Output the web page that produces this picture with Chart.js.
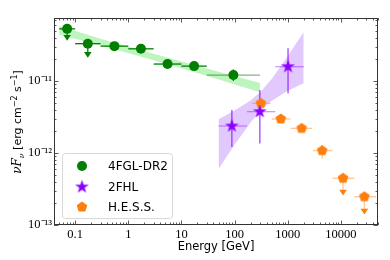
<!DOCTYPE html>
<html>
<head>
<meta charset="utf-8">
<script src="https://cdn.jsdelivr.net/npm/chart.js@4.4.0/dist/chart.umd.min.js"></script>
<style>
  html, body { margin: 0; padding: 0; background: #fff; }
</style>
</head>
<body>
<canvas id="chartCanvas" width="390" height="260"></canvas>
<script>
// ------------------------------------------------------------
// data (energy in GeV, flux in erg cm-2 s-1)
// ------------------------------------------------------------

// 4FGL-DR2 band points
var fglEnergy = [0.0707, 0.173, 0.548, 1.73, 5.48, 17.3, 94.9]
var fglEmin   = [0.05, 0.1, 0.3, 1, 3, 10, 30]
var fglEmax   = [0.1, 0.3, 1, 3, 10, 30, 300]
var fglFlux   = [5.3e-11, 3.3e-11, 3.05e-11, 2.8e-11, 1.72e-11, 1.61e-11, 1.21e-11]
var fglFluxLo = [null, null, null, null, null, null, 1.0e-11]
var fglFluxHi = [null, null, null, null, null, null, 1.45e-11]
var fglUpperLimit = [4.02e-11, 2.33e-11, null, null, null, null, null]

// 4FGL-DR2 power law butterfly
var fglBandEnergy = [0.05, 0.3, 3, 30, 300]
var fglBandUpper  = [5.8e-11, 3.85e-11, 2.4e-11, 1.49e-11, 9.4e-12]
var fglBandLower  = [4.4e-11, 3.15e-11, 1.94e-11, 1.18e-11, 7.0e-12]

// 2FHL points
var fhlEnergy = [89, 299, 1014]
var fhlEmin   = [50, 171, 585]
var fhlEmax   = [171, 585, 2000]
var fhlFlux   = [2.37e-12, 3.75e-12, 1.58e-11]
var fhlFluxLo = [1.21e-12, 1.36e-12, 6.75e-12]
var fhlFluxHi = [3.95e-12, 7.5e-12, 2.84e-11]

// 2FHL butterfly
var fhlBandEnergy = [50, 100, 200, 316, 500, 1000, 2000]
var fhlBandUpper  = [2.95e-12, 3.9e-12, 5.35e-12, 7.2e-12, 1.07e-11, 2.2e-11, 4.8e-11]
var fhlBandLower  = [6.0e-13, 1.3e-12, 2.65e-12, 3.95e-12, 5.3e-12, 7.3e-12, 9.3e-12]

// H.E.S.S. points
var hessEnergy = [312, 740, 1830, 4450, 11000, 27700]
var hessEmin   = [212, 500, 1140, 2960, 7000, 18000]
var hessEmax   = [481, 1130, 2870, 6930, 17900, 46000]
var hessFlux   = [4.9e-12, 2.97e-12, 2.2e-12, 1.08e-12, 4.46e-13, 2.47e-13]
var hessFluxLo = [null, null, null, 8.4e-13, null, null]
var hessFluxHi = [null, null, null, 1.29e-12, null, null]
var hessUpperLimit = [null, null, null, null, 2.85e-13, 1.55e-13]

// axes
var xMin = 0.04, xMax = 5e4
var yMin = 1e-13, yMax = 7.5e-11
var xTicks = [0.1, 1, 10, 100, 1000, 10000]
var yTicks = [1e-13, 1e-12, 1e-11]
var yTickLabels = ['10\u207B\u00B9\u00B3', '10\u207B\u00B9\u00B2', '10\u207B\u00B9\u00B9']

// colours
var green = '#007f00'
var purple = '#8b00ff'
var orange = '#ff7f0e'

// ------------------------------------------------------------
// marker images (filled star and pentagon)
// ------------------------------------------------------------
function polyMarker(n, rOut, rIn, color) {
    var size = Math.ceil(rOut * 2) + 2
    var c = document.createElement('canvas')
    c.width = size
    c.height = size
    var g = c.getContext('2d')
    g.translate(size / 2, size / 2)
    g.beginPath()
    var steps = rIn ? n * 2 : n
    for (var i = 0; i < steps; i++) {
        var r = (rIn && i % 2 == 1) ? rIn : rOut
        var a = -Math.PI / 2 + i * 2 * Math.PI / steps
        g.lineTo(r * Math.cos(a), r * Math.sin(a))
    }
    g.closePath()
    g.fillStyle = color
    g.fill()
    return c
}
var starImg = polyMarker(5, 7.2, 2.8, purple)
var pentImg = polyMarker(5, 5.6, 0, orange)

function points(xs, ys) {
    return xs.map((x, i) => ({ x: x, y: ys[i] }))
}

var datasets = [
    { label: '4FGL-DR2', data: points(fglEnergy, fglFlux), pointStyle: 'circle', pointRadius: 5,
      backgroundColor: green, borderColor: green, borderWidth: 0, showLine: false, order: 0 },
    { label: '2FHL', data: points(fhlEnergy, fhlFlux), pointStyle: starImg, pointRadius: 7,
      backgroundColor: purple, borderColor: purple, showLine: false, order: 0 },
    { label: 'H.E.S.S.', data: points(hessEnergy, hessFlux), pointStyle: pentImg, pointRadius: 6,
      backgroundColor: orange, borderColor: orange, showLine: false, order: 0 },
    // butterflies: upper edge, then lower edge filled to it
    { label: 'fgl up', band: true, data: points(fglBandEnergy, fglBandUpper), showLine: true,
      pointRadius: 0, borderColor: 'transparent', borderWidth: 0, fill: false, order: 5 },
    { label: 'fgl lo', band: true, data: points(fglBandEnergy, fglBandLower), showLine: true,
      pointRadius: 0, borderColor: 'transparent', borderWidth: 0, fill: '-1',
      backgroundColor: 'rgba(110,230,110,0.45)', order: 5 },
    { label: 'fhl up', band: true, data: points(fhlBandEnergy, fhlBandUpper), showLine: true,
      pointRadius: 0, borderColor: 'transparent', borderWidth: 0, fill: false, order: 5 },
    { label: 'fhl lo', band: true, data: points(fhlBandEnergy, fhlBandLower), showLine: true,
      pointRadius: 0, borderColor: 'transparent', borderWidth: 0, fill: '-1',
      backgroundColor: 'rgba(170,100,250,0.35)', order: 5 }
]

// ------------------------------------------------------------
// error bars, upper limit arrows
// ------------------------------------------------------------
function line(ctx, x1, y1, x2, y2, color, w) {
    ctx.beginPath()
    ctx.moveTo(x1, y1)
    ctx.lineTo(x2, y2)
    ctx.strokeStyle = color
    ctx.lineWidth = w
    ctx.stroke()
}

function drawSeriesErrors(chart, s) {
    var ctx = chart.ctx
    var xs = chart.scales.x, ys = chart.scales.y
    s.e.forEach((e, i) => {
        var px = xs.getPixelForValue(e)
        var py = ys.getPixelForValue(s.f[i])
        line(ctx, xs.getPixelForValue(s.emin[i]), py, xs.getPixelForValue(s.emax[i]), py,
             i == s.fadeIndex ? s.fadeColor : s.hColor, 1.3)
        if (s.lo[i] != null) {
            line(ctx, px, ys.getPixelForValue(s.lo[i]), px, ys.getPixelForValue(s.hi[i]), s.vColor, 1.3)
        }
        if (s.ul && s.ul[i] != null) {
            var tip = ys.getPixelForValue(s.ul[i])
            line(ctx, px, py, px, tip, s.ulColor, 1.3)
            ctx.beginPath()
            ctx.moveTo(px - 3.8, tip - 2.6)
            ctx.lineTo(px + 3.8, tip - 2.6)
            ctx.lineTo(px, tip + 3.2)
            ctx.closePath()
            ctx.fillStyle = s.headColor
            ctx.fill()
        }
    })
}

function drawErrors(chart) {
    var ctx = chart.ctx
    var a = chart.chartArea
    ctx.save()
    ctx.beginPath()
    ctx.rect(a.left, a.top, a.right - a.left, a.bottom - a.top)
    ctx.clip()
    drawSeriesErrors(chart, { e: fglEnergy, emin: fglEmin, emax: fglEmax, f: fglFlux, lo: fglFluxLo, hi: fglFluxHi,
        ul: fglUpperLimit, hColor: green, vColor: green, ulColor: green, headColor: green,
        fadeIndex: 6, fadeColor: 'rgba(0,110,0,0.5)' })
    drawSeriesErrors(chart, { e: fhlEnergy, emin: fhlEmin, emax: fhlEmax, f: fhlFlux, lo: fhlFluxLo, hi: fhlFluxHi,
        hColor: 'rgba(139,0,255,0.4)', vColor: 'rgba(139,0,255,0.75)' })
    drawSeriesErrors(chart, { e: hessEnergy, emin: hessEmin, emax: hessEmax, f: hessFlux, lo: hessFluxLo, hi: hessFluxHi,
        ul: hessUpperLimit, hColor: 'rgba(255,127,14,0.45)', vColor: 'rgba(255,127,14,0.45)',
        ulColor: 'rgba(255,127,14,0.45)', headColor: orange })
    ctx.restore()
}

// ------------------------------------------------------------
// frame with inward ticks, y label, legend
// ------------------------------------------------------------
function minorValues(min, max) {
    var out = []
    for (var p = Math.floor(Math.log10(min)); p <= Math.ceil(Math.log10(max)); p++) {
        for (var m = 1; m <= 9; m++) {
            var v = m * Math.pow(10, p)
            if (v >= min && v <= max) out.push({ v: v, major: m == 1 })
        }
    }
    return out
}

function drawFrame(chart) {
    var ctx = chart.ctx
    var a = chart.chartArea
    var xs = chart.scales.x, ys = chart.scales.y
    ctx.save()
    minorValues(xMin, xMax).forEach(t => {
        var px = Math.round(xs.getPixelForValue(t.v)) + 0.5
        var len = t.major ? 4.5 : 2.5
        line(ctx, px, a.bottom, px, a.bottom - len, '#333', 0.8)
        line(ctx, px, a.top, px, a.top + len, '#333', 0.8)
    })
    minorValues(yMin, yMax).forEach(t => {
        var py = Math.round(ys.getPixelForValue(t.v)) + 0.5
        var len = t.major ? 4.5 : 2.5
        line(ctx, a.left, py, a.left + len, py, '#333', 0.8)
        line(ctx, a.right, py, a.right - len, py, '#333', 0.8)
    })
    ctx.strokeStyle = '#333'
    ctx.lineWidth = 1
    ctx.strokeRect(Math.round(a.left) + 0.5, Math.round(a.top) + 0.5,
                   Math.round(a.right - a.left) - 1, Math.round(a.bottom - a.top) - 1)
    ctx.restore()
}

function drawYLabel(chart) {
    var ctx = chart.ctx
    var serifIt = 'italic 12px "DejaVu Serif"'
    var sans = '11px "DejaVu Sans"'
    var small = '8px "DejaVu Sans"'
    var parts = [
        { t: '\u03BD', f: serifIt, dy: 0 },
        { t: 'F', f: serifIt, dy: 0 },
        { t: '\u03BD', f: 'italic 8px "DejaVu Serif"', dy: 2.5 },
        { t: ' [erg cm', f: sans, dy: 0 },
        { t: '\u22122', f: small, dy: -4.5 },
        { t: ' s', f: sans, dy: 0 },
        { t: '\u22121', f: small, dy: -4.5 },
        { t: ']', f: sans, dy: 0 }
    ]
    ctx.save()
    var total = 0
    parts.forEach(p => { ctx.font = p.f; p.w = ctx.measureText(p.t).width; total += p.w })
    ctx.translate(21, 122)
    ctx.rotate(-Math.PI / 2)
    ctx.fillStyle = '#000'
    ctx.textBaseline = 'alphabetic'
    var x = -total / 2
    parts.forEach(p => { ctx.font = p.f; ctx.fillText(p.t, x, p.dy); x += p.w })
    ctx.restore()
}

function drawLegend(chart) {
    var ctx = chart.ctx
    var box = { x: 62.5, y: 153.5, w: 110, h: 65 }
    ctx.save()
    ctx.beginPath()
    ctx.roundRect(box.x, box.y, box.w, box.h, 3)
    ctx.fillStyle = 'rgba(255,255,255,0.8)'
    ctx.fill()
    ctx.strokeStyle = '#d8d8d8'
    ctx.lineWidth = 1
    ctx.stroke()
    var rows = [166, 187, 207]
    chart.data.datasets.slice(0, 3).forEach((ds, i) => {
        var y = rows[i]
        if (ds.pointStyle == 'circle') {
            ctx.beginPath()
            ctx.arc(82, y, 5, 0, Math.PI * 2)
            ctx.fillStyle = ds.backgroundColor
            ctx.fill()
        } else {
            var img = ds.pointStyle
            ctx.drawImage(img, 82 - img.width / 2, y - img.height / 2)
        }
        ctx.font = '12px "DejaVu Sans"'
        ctx.fillStyle = '#000'
        ctx.textBaseline = 'middle'
        ctx.fillText(ds.label, 108, y + 0.5)
    })
    ctx.restore()
}

var decorPlugin = {
    id: 'decor',
    beforeDraw(chart) { chart.$errDone = false },
    beforeDatasetDraw(chart, args) {
        var ds = chart.data.datasets[args.index]
        if (!ds.band && !chart.$errDone) {
            drawErrors(chart)
            chart.$errDone = true
        }
    },
    afterDraw(chart) {
        drawFrame(chart)
        drawYLabel(chart)
        drawLegend(chart)
    }
}

// ------------------------------------------------------------
// chart
// ------------------------------------------------------------
var myChart = new Chart(document.getElementById('chartCanvas'), {
    type: 'scatter',
    data: { datasets: datasets },
    options: {
        responsive: false,
        animation: false,
        layout: { padding: { top: 18, right: 12, left: 0, bottom: 0 } },
        plugins: { legend: { display: false }, tooltip: { enabled: false } },
        scales: {
            x: {
                type: 'logarithmic', min: xMin, max: xMax,
                grid: { display: false, drawTicks: false }, border: { display: false },
                afterBuildTicks: scale => { scale.ticks = xTicks.map(v => ({ value: v })) },
                afterFit: scale => { scale.height = 35 },
                ticks: { color: '#000', padding: 2, maxRotation: 0, autoSkip: false,
                         font: { family: 'Liberation Serif', size: 12.5 },
                         callback: v => String(v) },
                title: { display: true, text: 'Energy [GeV]', color: '#000',
                         font: { family: 'DejaVu Sans', size: 11.5 }, padding: { top: 0, bottom: 6 } }
            },
            y: {
                type: 'logarithmic', min: yMin, max: yMax,
                grid: { display: false, drawTicks: false }, border: { display: false },
                afterBuildTicks: scale => { scale.ticks = yTicks.map(v => ({ value: v })) },
                afterFit: scale => { scale.width = 54 },
                ticks: { color: '#000', padding: 2, autoSkip: false,
                         font: { family: 'Liberation Serif', size: 12.5 },
                         callback: (v, i) => yTickLabels[yTicks.indexOf(v)] }
            }
        }
    },
    plugins: [decorPlugin]
})
</script>
</body>
</html>
